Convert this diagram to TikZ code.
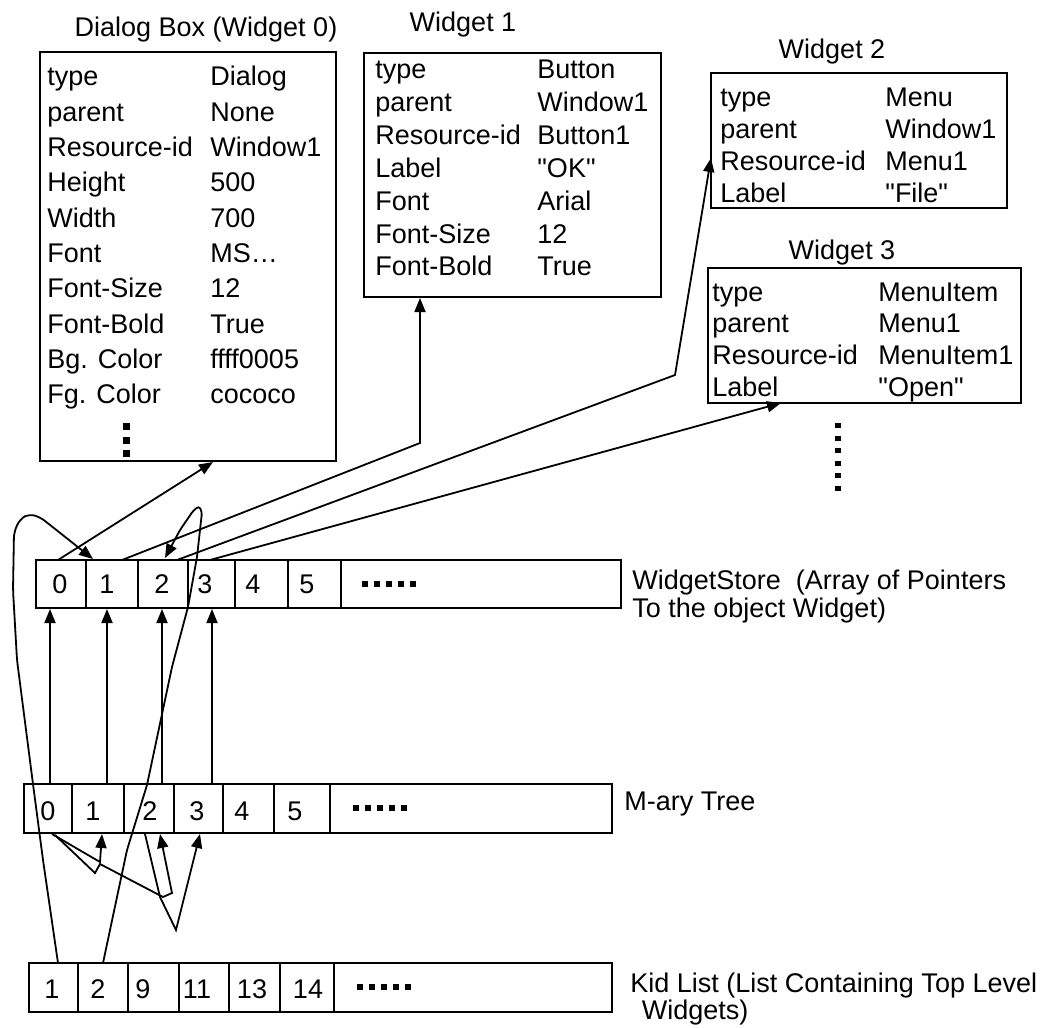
\documentclass[tikz,border=0pt]{standalone}
\usepackage{fontspec}
\setmainfont{Liberation Sans}[Ligatures=TeXOff]
\usetikzlibrary{arrows.meta,fit}
\newcommand{\qq}{\symbol{34}}
\begin{document}
\begin{tikzpicture}[x=0.5pt,y=-0.5pt,
  txt/.style={font=\fontsize{13.5}{16}\selectfont, inner sep=0pt, anchor=base west},
  num/.style={font=\fontsize{13.5}{16}\selectfont, inner sep=0pt},
  rec/.style={draw, line width=1.1pt, inner sep=0pt},
  cell/.style={draw, line width=1.1pt, inner sep=0pt},
  con/.style={line width=0.9pt},
  arr/.style={con, -{Triangle[length=7pt,width=5.5pt]}},
  dot/.style={fill=black}
]
\useasboundingbox (0,0) rectangle (1048,1027);

% ---------- record boxes ----------
\node[rec, fit={(40,52) (336,461)}] (dlg) {};
\node[rec, fit={(364,53) (661,297)}] (w1) {};
\node[rec, fit={(711,73) (1007,208)}] (w2) {};
\node[rec, fit={(708,268) (1021,403)}] (w3) {};

\node[num] (tdlg) at (206,30) {Dialog Box (Widget 0)};
\node[num] (tw1) at (463,25) {Widget 1};
\node[num] (tw2) at (832,52) {Widget 2};
\node[num] (tw3) at (842,253) {Widget 3};

\foreach \k/\v [count=\i from 0] in {type/Dialog, parent/None, Resource-id/Window1, Height/500, Width/700, Font/MS\ldots, Font-Size/12, Font-Bold/True, Bg. Color/ffff0005, Fg. Color/cococo} {
  \node[txt] (dk\i) at (47, 86+35.3*\i) {\k};
  \node[txt] (dv\i) at (210, 86+35.3*\i) {\v};
}
\foreach \y [count=\i] in {423,437,450} \fill[dot] (123,\y) rectangle ++(7,7);

\foreach \k/\v [count=\i from 0] in {type/Button, parent/Window1, Resource-id/Button1, Label/\qq OK\qq, Font/Arial, Font-Size/12, Font-Bold/True} {
  \node[txt] (ak\i) at (375, 79+32.8*\i) {\k};
  \node[txt] (av\i) at (537, 79+32.8*\i) {\v};
}
\foreach \k/\v [count=\i from 0] in {type/Menu, parent/Window1, Resource-id/Menu1, Label/\qq File\qq} {
  \node[txt] (bk\i) at (720, 107+32*\i) {\k};
  \node[txt] (bv\i) at (885, 107+32*\i) {\v};
}
\foreach \k/\v [count=\i from 0] in {type/MenuItem, parent/Menu1, Resource-id/MenuItem1, Label/\qq Open\qq} {
  \node[txt] (ck\i) at (712, 301+31.7*\i) {\k};
  \node[txt] (cv\i) at (878, 301+31.7*\i) {\v};
}
\foreach \y in {423,435.5,448,460.5,473,485.5} \fill[dot] (835,\y) rectangle ++(6,5);

% ---------- arrays ----------
\foreach \a/\b [count=\i from 0] in {36/86,86/138,138/188,188/235,235/288,288/341,341/621}
  \node[cell, fit={(\a,560) (\b,608)}] (ws\i) {};
\foreach \x/\t in {60/0,107/1,162/2,205/3,253/4,307/5} \node[num] at (\x,584) {\t};
\foreach \j in {0,1,2,3,4} \fill[dot] (362+12*\j,581) rectangle ++(6,6);

\foreach \a/\b [count=\i from 0] in {24/72,72/124,124/174,174/223,223/274,274/330,330/612}
  \node[cell, fit={(\a,784) (\b,833)}] (mt\i) {};
\foreach \x/\t in {48/0,93/1,150/2,197/3,242/4,295/5} \node[num] at (\x,811) {\t};
\foreach \j in {0,1,2,3,4} \fill[dot] (353+12*\j,805) rectangle ++(6,6);

\foreach \a/\b [count=\i from 0] in {29/78,78/128,128/179,179/229,229/280,280/334,334/612}
  \node[cell, fit={(\a,963) (\b,1012)}] (kl\i) {};
\foreach \x/\t in {52/1,98/2,143/9,197/11,252/13,308/14} \node[num] at (\x,989) {\t};
\foreach \j in {0,1,2,3,4} \fill[dot] (357+12*\j,984) rectangle ++(6,6);

\node[txt] (lws) at (632,589) {WidgetStore\ \ (Array of Pointers};
\node[txt] (lws2) at (632,617) {To the object Widget)};
\node[txt] (lmt) at (624,810) {M-ary Tree};
\node[txt] (lkl) at (630,992) {Kid List (List Containing Top Level};
\node[txt] (lkl2) at (634,1019) {\ Widgets)};

% ---------- connectors ----------
\coordinate (s0) at (58,560);  \coordinate (e0) at (213,462);
\coordinate (s1) at (122,560); \coordinate (b1) at (420,443); \coordinate (e1) at (420,298);
\coordinate (s2) at (177,560); \coordinate (b2) at (675,375); \coordinate (e2) at (711,158);
\coordinate (s3) at (210,560); \coordinate (e3) at (781,403);
\draw[arr] (s0) -- (e0);
\draw[arr] (s1) -- (b1) -- (e1);
\draw[arr] (s2) -- (b2) -- (e2);
\draw[arr] (s3) -- (e3);

\foreach \x in {50,107,162,212} \draw[arr] (\x,784) -- (\x,609);

\draw[arr] (52,834) -- (100,862) -- (102,834);
\draw[arr] (55,835) -- (95,873) -- (100,864) -- (163,897) -- (172,893) -- (160,834);
\draw[arr] (145,834) -- (160,897) -- (176,930) -- (200,834);

\draw[arr, rounded corners=3pt] (58,963) -- (43,860) -- (33,784) -- (17,660) -- (13,590) -- (14,532) -- (20,519) -- (29,514) -- (40,517) -- (93,559);
\draw[arr, rounded corners=1.5pt] (103,963) -- (127,850) -- (147,785) -- (172,667) -- (188,607) -- (197,557) -- (202,512) -- (199,506) -- (193,511) -- (180,530) -- (165,558);
\end{tikzpicture}
\end{document}
